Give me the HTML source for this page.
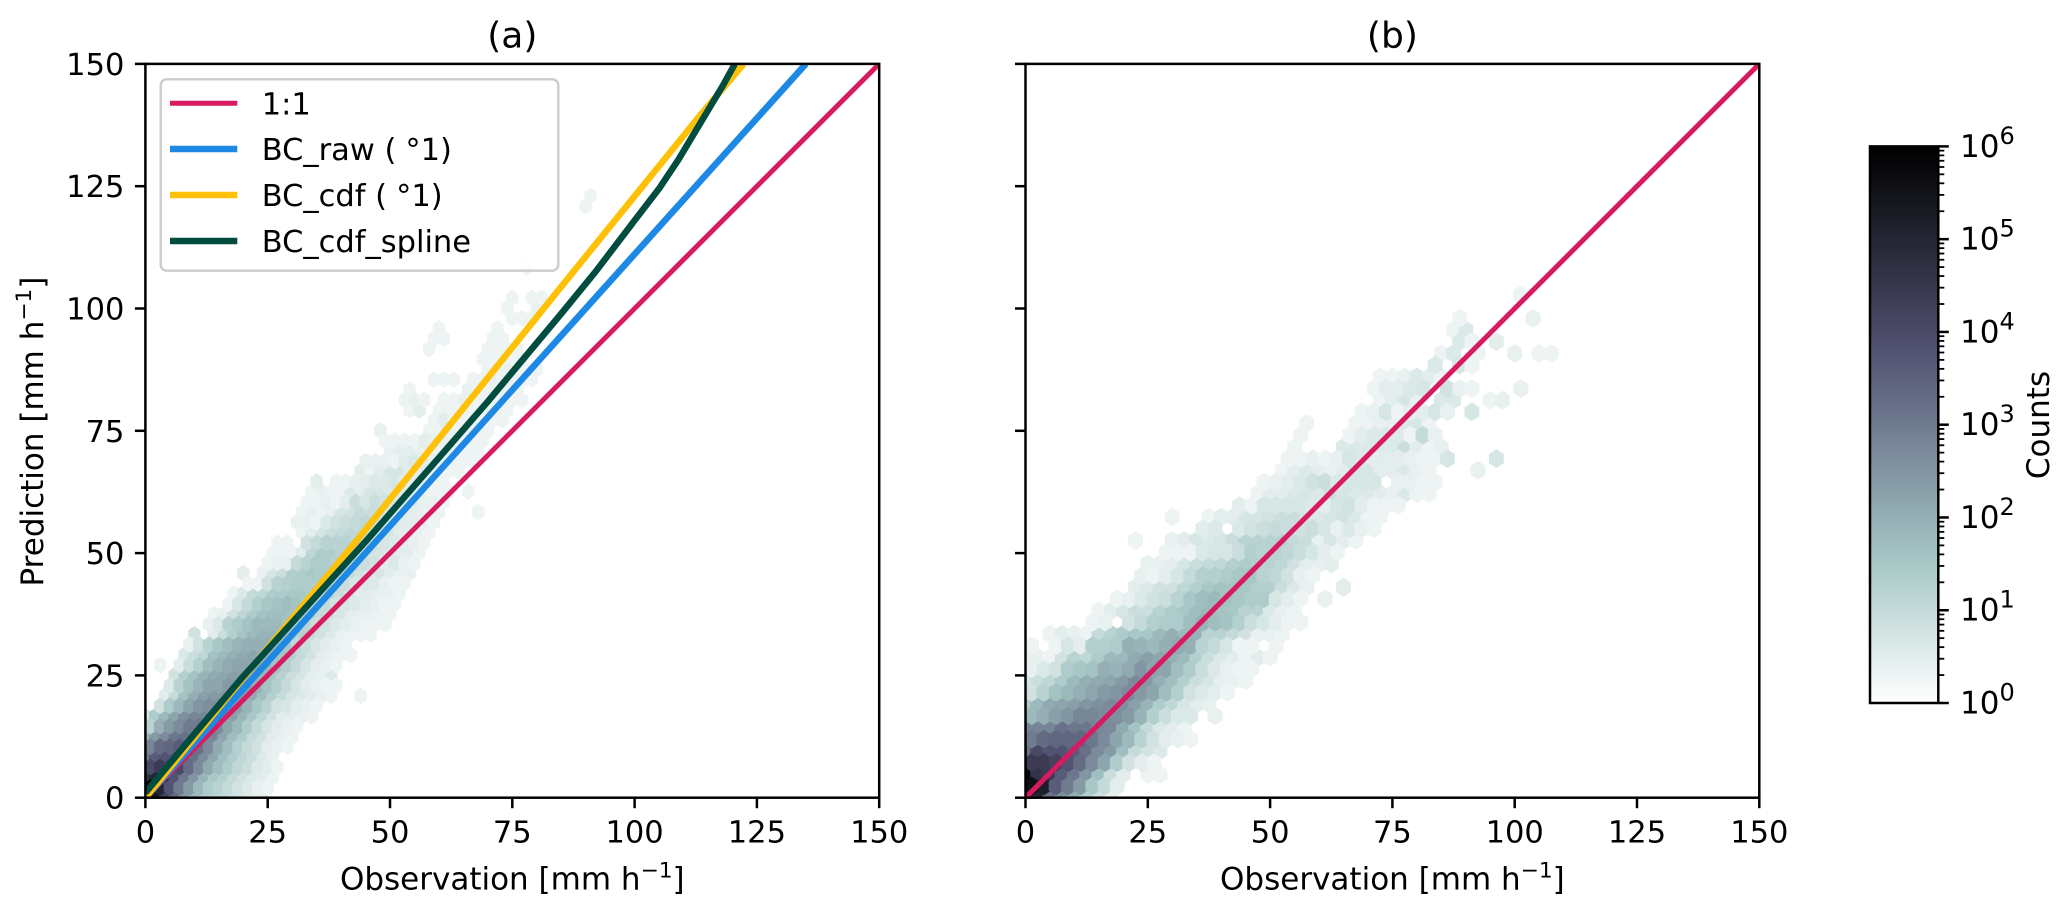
<!DOCTYPE html>
<html lang="en">
<head>
<meta charset="utf-8">
<title>Observation vs prediction hexbin</title>
<style>
html,body{margin:0;padding:0;background:#fff;width:2067px;height:911px;overflow:hidden}
svg{display:block}
text{font-family:"DejaVu Sans","Liberation Sans",sans-serif;fill:#000}
</style>
</head>
<body>
<svg id="fig" width="2067" height="911" viewBox="0 0 2067 911" xmlns="http://www.w3.org/2000/svg">
  <defs>
    <clipPath id="clipA"><rect x="145.4" y="63.9" width="733.8" height="733.8"/></clipPath>
    <clipPath id="clipB"><rect x="1025.5" y="63.9" width="733.8" height="733.8"/></clipPath>
  </defs>
  <g id="panelA">
    <g id="hexA" clip-path="url(#clipA)"></g>
    <g id="linesA" clip-path="url(#clipA)" fill="none"></g>
    <rect x="145.4" y="63.9" width="733.8" height="733.8" fill="none" stroke="#000" stroke-width="2.5"/>
    <g id="ticksA"></g>
    <text x="512.3" y="47.5" font-size="36" text-anchor="middle">(a)</text>
    <text x="512.3" y="889.3" font-size="31" text-anchor="middle">Observation [mm h<tspan font-size="21.7" dy="-12">−1</tspan><tspan dy="12">]</tspan></text>
    <text transform="translate(43,431.5) rotate(-90)" font-size="31" text-anchor="middle">Prediction [mm h<tspan font-size="21.7" dy="-12">−1</tspan><tspan dy="12">]</tspan></text>
    <g>
      <rect x="160.7" y="79.3" width="397.6" height="191.4" rx="6" ry="6" fill="#fff" fill-opacity="0.8" stroke="#ccc" stroke-width="2.4"/>
      <line x1="170" x2="237.3" y1="103.3" y2="103.3" stroke="#D81B60" stroke-width="5"/>
      <text x="261.7" y="114.3" font-size="30.5">1:1</text>
      <line x1="170" x2="237.3" y1="149" y2="149" stroke="#1E88E5" stroke-width="6.5"/>
      <text x="261.7" y="160" font-size="30.5">BC_raw (<tspan dx="9">°</tspan>1)</text>
      <line x1="170" x2="237.3" y1="195" y2="195" stroke="#FFC107" stroke-width="6.5"/>
      <text x="261.7" y="206" font-size="30.5">BC_cdf (<tspan dx="9">°</tspan>1)</text>
      <line x1="170" x2="237.3" y1="241" y2="241" stroke="#004D40" stroke-width="6.5"/>
      <text x="261.7" y="252" font-size="30.5">BC_cdf_spline</text>
    </g>
  </g>
  <g id="panelB">
    <g id="hexB" clip-path="url(#clipB)"></g>
    <g id="linesB" clip-path="url(#clipB)" fill="none"></g>
    <rect x="1025.5" y="63.9" width="733.8" height="733.8" fill="none" stroke="#000" stroke-width="2.5"/>
    <g id="ticksB"></g>
    <text x="1392.4" y="47.5" font-size="36" text-anchor="middle">(b)</text>
    <text x="1392.4" y="889.3" font-size="31" text-anchor="middle">Observation [mm h<tspan font-size="21.7" dy="-12">−1</tspan><tspan dy="12">]</tspan></text>
  </g>
  <g id="colorbar">
    <g id="cbFill"></g>
    <rect x="1870" y="146.4" width="68.3" height="556.6" fill="none" stroke="#000" stroke-width="2.5"/>
    <g id="cbTicks"></g>
    <text transform="translate(2049,425) rotate(-90)" font-size="31" text-anchor="middle">Counts</text>
  </g>
</svg>
<script>
// Axis tick values
const axisTicks = [0, 25, 50, 75, 100, 125, 150];
const cbExponents = [0, 1, 2, 3, 4, 5, 6];

// Line series (observation, prediction)
const oneToOneObs = [0, 150];
const oneToOnePred = [0, 150];
const bcRawObs = [0, 135];
const bcRawPred = [0, 150];
const bcCdfObs = [0, 20, 43.3, 84.8, 113, 122.3];
const bcCdfPred = [0, 24.5, 52.7, 104.2, 139, 150];
const bcSplineObs = [0, 5, 10, 20, 30, 45.3, 60, 70, 84.8, 92, 100, 105, 109, 112, 115, 118, 120.5];
const bcSplinePred = [1, 7, 13, 24.8, 35.8, 52.7, 69.5, 81, 98.7, 107.5, 118, 124.5, 130.5, 135.5, 140.5, 145.5, 150];

// Hexbin bin steps, in data units
const binStepA = [2, 2.085];
const binStepB = [2.5, 2.39];

// Hexbin: [prediction bin, first observation value, log-count levels in tenths of a decade]
const hexRowsA = [
[0,0,[56,54,42,33,24,18,14,12,10,8,6,5,4]],
[1,1,[58,50,38,30,24,18,14,12,10,8,6,4,3]],
[2,0,[46,50,50,38,31,25,19,15,13,10,8,6,5,3]],
[3,1,[40,44,42,40,33,27,21,17,14,11,9,6,5,3]],
[4,0,[30,36,38,38,37,32,27,22,17,14,11,9,6,4]],
[5,1,[28,33,34,36,34,32,27,21,17,13,10,8,5,4,3]],
[6,0,[18,24,27,31,32,33,31,28,22,17,14,10,8,5,4,3]],
[7,1,[12,20,24,27,30,30,29,27,22,18,14,10,7,5,4,3]],
[8,0,[6,14,18,22,26,28,28,28,26,23,19,15,11,8,5,5,4,3]],
[9,3,[8,14,18,22,25,26,26,26,23,19,15,12,8,7,5,4,3]],
[10,4,[5,10,16,20,23,24,24,25,24,21,17,13,10,7,6,5,4,3]],[10,44,[3]],
[11,5,[6,12,16,19,22,22,24,24,24,20,16,13,10,7,5,4,3,3]],
[12,6,[8,13,16,19,21,22,23,23,21,19,15,12,9,7,5,4,6]],
[13,3,[3]],[13,7,[5,9,13,17,19,21,22,22,22,19,16,13,10,7,5,4,3]],
[14,8,[6,9,11,16,18,20,21,22,21,19,16,13,10,8,5,4,3,3]],
[15,9,[4,8,12,15,17,19,20,20,20,18,15,11,9,7,5,4,3]],
[16,10,[8]],[16,14,[5,9,13,16,18,19,19,17,15,13,10,8,6,4,3,3,3]],
[17,13,[4,6,12,14,16,18,18,18,16,14,12,9,8,6,5,4,3,3,3]],
[18,14,[3,4,8,11,14,16,17,17,16,14,13,10,8,7,5,4,4,3,3]],
[19,17,[3,7,10,13,15,16,17,16,14,12,10,8,7,6,5,4,3,3]],
[20,18,[3,6,10,11,14,14,15,15,14,12,11,9,7,5,5,4,4,3]],
[21,21,[3,3,8,12,13,14,14,14,14,11,9,7,6,6,4,3,3]],
[22,20,[5]],[22,24,[4,7,9,13,14,15,14,13,11,10,8,6,7,5,4,4]],
[23,25,[3,4,4,10,12,14,14,13,12,10,9,8,5,6,4,3]],
[24,26,[3,3,3,5,11,14,14,12,12,10,8,7,6,5,5,3]],
[25,27,[3,3]],[25,33,[8,10,12,12,12,11,9,8,7,6,5,4,3]],
[26,32,[3,5,7,9,10,11,11,9,7,7,5,5,4,3]],
[27,31,[4,4,3,6,8,9,10,11,9,7,6,5,5,4,3]],
[28,32,[3,4,3,4,7,8,10,9,9,7,6,5,4,3,3]],[28,68,[3]],
[29,33,[3,3,4,3,5,9,7,9,8,6,6,5,4,4,3]],
[30,34,[3,4,3,3,6,5,7,7,6,6,5,4,3,3,3]],[30,66,[3]],
[31,35,[5]],[31,39,[3,3,4,5,6,6,7,5,5,4,3,3]],
[32,44,[5,3,5,7,7,5,5,4,4,3,3]],
[33,45,[4,4,4,3,5,6,5,4,3,3,3,3]],
[34,50,[4,5,5,4,3,3,4,3,3,3]],
[35,49,[3,3,3,3,5,4,4,3,3,3,3]],
[36,48,[4]],[36,58,[3,3,4,3,3,3,3]],
[37,59,[3,5,3,3,3,3,3,3]],
[38,54,[3,5]],[38,60,[3,3,3,3,3,3,3,3]],
[39,53,[3,4,3]],[39,61,[3,3,4,3,3,3,3,3,3]],
[40,54,[3]],[40,66,[4,3,3,3,3,3]],
[41,59,[3,3,3]],[41,67,[3,3,4,3,3,3,3]],
[42,70,[3,3,4,3,3,3]],
[43,69,[3,3,3,3,3]],
[44,58,[3]],[44,70,[3,3,3,3]],
[45,59,[3,3]],[45,71,[3,3]],
[46,60,[3]],[46,72,[3]],
[47,75,[3,3,3]],
[48,74,[3]],[48,80,[4]],
[49,75,[3]],[49,79,[3,3]],
[52,78,[3]],
[58,90,[3]],
[59,91,[3]]
];

const hexRowsB = [
[0,0,[52,50,32,26,20,13,8,4]],
[1,1.25,[56,52,36,30,24,15,10,5]],
[2,0,[58,46,44,36,31,25,17,9,5]],[2,25,[3,3]],
[3,1.25,[44,44,42,38,33,27,22,14,8,5,3]],
[4,0,[32,40,38,38,36,32,27,24,17,10,8,6]],
[5,1.25,[30,33,34,34,34,31,27,22,18,12,8,5,4,3]],
[6,0,[28,28,28,32,31,31,28,27,21,16,10,6,5,3]],
[7,1.25,[18,20,23,25,28,28,27,26,24,19,13,9,6,6]],[7,38.75,[4]],
[8,0,[14,18,21,22,23,25,26,27,26,23,19,14,11,7,5,4]],
[9,1.25,[8,12,16,18,20,22,24,25,27,24,22,17,13,8,6,5,3]],
[10,0,[7,9,11,14,18,20,21,22,24,27,24,20,17,13,9,7,4,4,3]],
[11,1.25,[4,6,8,14,15,16,20,19,21,25,22,22,17,14,9,6,4,3,3]],
[12,0,[4,4,3,8,12,11,14,18,18,21,23,22,20,18,13,9,6,5,3,5,3]],
[13,1.25,[3]],[13,6.25,[3,7,5,13,13,14,20,19,18,20,21,20,12,10,7,3,3]],[13,51.25,[3]],
[14,5,[3,5,4,3,10,12,14,15,15,18,20,18,19,12,12,10,8,4,4,3]],
[15,13.75,[3,4]],[15,21.25,[8,10,13,14,14,17,19,17,16,13,9,7,5,3,3]],
[16,15,[3,5,7,9,9,12,14,15,17,18,16,15,12,12,6,4,3]],
[17,18.75,[3,4,6,8,9,12,15,17,18,16,15,14,14,7,5,3]],[17,61.25,[4]],
[18,22.5,[5,6,8,8,11,13,15,16,16,15,13,13,9,6,4]],[18,65,[5]],
[19,23.75,[4,3,5,7,10,13,13,14,15,15,12,11,8,4,3]],
[20,25,[4,4,5,7,9,10,11,13,14,13,12,11,8,5,4,5]],
[21,28.75,[3,3,3,6,7,7,9,13,12,12,11,9,7,5,3]],
[22,22.5,[3]],[22,30,[4,5,7,6,7,9,12,12,12,13,10,9,4,7,5,3]],
[23,36.25,[5,6]],[23,43.75,[6,8,9,10,9,8,9,7,4,6,4,3]],
[24,30,[3]],[24,37.5,[3,5,5,7,7,8,9,9,7,6,7,8,6,3,3]],
[25,43.75,[5,3,7,7,7,7,6,5,7,8,5,3,3,3]],
[26,47.5,[3,5,5,6,7,6,9,7,6,6,5,4,6,3,3]],
[27,48.75,[3,4,5,6,8,9,6,7,7,7]],[27,76.25,[4,4,3,3]],
[28,52.5,[3,5,6,5,4,5,7,7,5,5,6,4,3]],[28,92.5,[4]],
[29,53.75,[3,3,4,3,4,7,6,5,5,5,4,3,3,7]],[29,96.25,[7]],
[30,55,[3]],[30,65,[6,6,6,6,6,9,5,3,4]],
[31,56.25,[3]],[31,66.25,[3,5,6,6,6,3,10,4]],
[32,57.5,[3]],[32,67.5,[3,3,4,4,6,7,3]],
[33,68.75,[3,4,7,3,5,5,7,4]],[33,91.25,[7]],
[34,72.5,[3,5,7,4]],[34,85,[6,6]],[34,95,[3,4]],
[35,71.25,[3,5,5,6,7]],[35,86.25,[8,4,3]],[35,101.25,[4]],
[36,72.5,[3,3,4,6,5,3]],
[37,83.75,[6]],[37,88.75,[7,3]],
[38,85,[3,6]],[38,92.5,[3]],[38,100,[4]],[38,105,[3,3]],
[39,88.75,[6,3]],[39,96.25,[5]],
[40,87.5,[3,6]],
[41,88.75,[3]],[41,103.75,[4]],
[43,101.25,[3]]
];

const SVGNS = 'http://www.w3.org/2000/svg';
const panelA = {left: 145.4, bottom: 797.7, size: 733.8};
const panelB = {left: 1025.5, bottom: 797.7, size: 733.8};
function sx(p, v) { return p.left + v / 150 * p.size; }
function sy(p, v) { return p.bottom - v / 150 * p.size; }

function interp(x, xs, ys) {
  for (let i = 1; i < xs.length; i++) {
    if (x <= xs[i]) return ys[i-1] + (x - xs[i-1]) / (xs[i] - xs[i-1]) * (ys[i] - ys[i-1]);
  }
  return ys[ys.length-1];
}
function boneR(t) {
  const u = 1 - Math.max(0, Math.min(1, t));
  const r = interp(u, [0, .746032, 1], [0, .652778, 1]);
  const g = interp(u, [0, .365079, .746032, 1], [0, .319444, .782407, 1]);
  const b = interp(u, [0, .365079, 1], [0, .444444, 1]);
  return 'rgb(' + Math.round(r*255) + ',' + Math.round(g*255) + ',' + Math.round(b*255) + ')';
}

function drawHexes(rows, panel, step, host) {
  const halfW = step[0] / 150 * panel.size / 2;
  const rowPx = step[1] / 150 * panel.size;
  const tall = rowPx * 2 / 3, shoulder = rowPx / 3;
  [0, 1].forEach(function (parity) {
    rows.forEach(function (row) {
      if (row[0] % 2 !== parity) return;
      row[2].forEach(function (level, i) {
        if (!level) return;
        const cx = sx(panel, row[1] + i * step[0]);
        const cy = sy(panel, row[0] * step[1]);
        const el = document.createElementNS(SVGNS, 'polygon');
        
        
        el.setAttribute('points', [
          [cx + halfW, cy - shoulder], [cx + halfW, cy + shoulder], [cx, cy + tall],
          [cx - halfW, cy + shoulder], [cx - halfW, cy - shoulder], [cx, cy - tall]
        ].map(function (q) { return q[0].toFixed(2) + ',' + q[1].toFixed(2); }).join(' '));
        const col = boneR(level / 60);
        el.setAttribute('fill', col);
        el.setAttribute('stroke', col);
        el.setAttribute('stroke-width', '2.6');
        host.appendChild(el);
      });
    });
  });
}

function drawLine(panel, host, xs, ys, color, width, name) {
  const el = document.createElementNS(SVGNS, 'polyline');
  
  
  el.setAttribute('points', xs.map(function (x, i) {
    return sx(panel, x).toFixed(2) + ',' + sy(panel, ys[i]).toFixed(2);
  }).join(' '));
  el.setAttribute('stroke', color);
  el.setAttribute('stroke-width', width);
  el.setAttribute('stroke-linejoin', 'round');
  host.appendChild(el);
}

function drawTicks(panel, host, showY) {
  axisTicks.forEach(function (v) {
    const x = sx(panel, v), y = sy(panel, v);
    const xt = document.createElementNS(SVGNS, 'line');
    
    
    xt.setAttribute('x1', x); xt.setAttribute('x2', x);
    xt.setAttribute('y1', panel.bottom); xt.setAttribute('y2', panel.bottom + 10.5);
    xt.setAttribute('stroke', '#000'); xt.setAttribute('stroke-width', '2.5');
    host.appendChild(xt);
    const xl = document.createElementNS(SVGNS, 'text');
    
    
    xl.setAttribute('x', x); xl.setAttribute('y', 842.7);
    xl.setAttribute('font-size', '30.5'); xl.setAttribute('text-anchor', 'middle');
    xl.textContent = v;
    host.appendChild(xl);
    const yt = document.createElementNS(SVGNS, 'line');
    
    
    yt.setAttribute('x1', panel.left - 10.5); yt.setAttribute('x2', panel.left);
    yt.setAttribute('y1', y); yt.setAttribute('y2', y);
    yt.setAttribute('stroke', '#000'); yt.setAttribute('stroke-width', '2.5');
    host.appendChild(yt);
    if (showY) {
      const yl = document.createElementNS(SVGNS, 'text');
      
      
      yl.setAttribute('x', panel.left - 21); yl.setAttribute('y', y + 11);
      yl.setAttribute('font-size', '30.5'); yl.setAttribute('text-anchor', 'end');
      yl.textContent = v;
      host.appendChild(yl);
    }
  });
}

drawHexes(hexRowsA, panelA, binStepA, document.getElementById('hexA'));
drawHexes(hexRowsB, panelB, binStepB, document.getElementById('hexB'));

const la = document.getElementById('linesA');
drawLine(panelA, la, oneToOneObs, oneToOnePred, '#D81B60', 5, 'line-1to1');
drawLine(panelA, la, bcRawObs, bcRawPred, '#1E88E5', 6.5, 'line-bc-raw');
drawLine(panelA, la, bcCdfObs, bcCdfPred, '#FFC107', 6.5, 'line-bc-cdf');
drawLine(panelA, la, bcSplineObs, bcSplinePred, '#004D40', 6.5, 'line-bc-cdf-spline');
drawLine(panelB, document.getElementById('linesB'), oneToOneObs, oneToOnePred, '#D81B60', 5, 'line-1to1-b');

drawTicks(panelA, document.getElementById('ticksA'), true);
drawTicks(panelB, document.getElementById('ticksB'), false);

// Colorbar
const cbTop = 146.4, cbBottom = 703, cbLeft = 1870, cbRight = 1938.3;
function cbY(exp) { return cbBottom - exp / 6 * (cbBottom - cbTop); }
const cbFill = document.getElementById('cbFill');
for (let i = 0; i < 186; i++) {
  const seg = document.createElementNS(SVGNS, 'rect');
  
  
  const y1 = cbY((i + 1) / 186 * 6), y2 = cbY(i / 186 * 6);
  seg.setAttribute('x', cbLeft); seg.setAttribute('width', cbRight - cbLeft);
  seg.setAttribute('y', y1); seg.setAttribute('height', y2 - y1 + 0.6);
  seg.setAttribute('fill', boneR((i + .5) / 186));
  cbFill.appendChild(seg);
}
const cbT = document.getElementById('cbTicks');
cbExponents.forEach(function (e) {
  const y = cbY(e);
  const t = document.createElementNS(SVGNS, 'line');
  
  
  t.setAttribute('x1', cbRight); t.setAttribute('x2', cbRight + 10.5);
  t.setAttribute('y1', y); t.setAttribute('y2', y);
  t.setAttribute('stroke', '#000'); t.setAttribute('stroke-width', '2.5');
  cbT.appendChild(t);
  if (e < 6) {
    for (let m = 2; m < 10; m++) {
      const my = cbY(e + Math.log10(m));
      const mt = document.createElementNS(SVGNS, 'line');
      
      
      mt.setAttribute('x1', cbRight); mt.setAttribute('x2', cbRight + 6);
      mt.setAttribute('y1', my); mt.setAttribute('y2', my);
      mt.setAttribute('stroke', '#000'); mt.setAttribute('stroke-width', '1.8');
      cbT.appendChild(mt);
    }
  }
  const lab = document.createElementNS(SVGNS, 'text');
  
  
  lab.setAttribute('x', 1960); lab.setAttribute('y', y + 10.5);
  lab.setAttribute('font-size', '31');
  lab.appendChild(document.createTextNode('10'));
  const sup = document.createElementNS(SVGNS, 'tspan');
  sup.setAttribute('font-size', '24');
  sup.setAttribute('dy', '-13');
  sup.textContent = e;
  lab.appendChild(sup);
  cbT.appendChild(lab);
});
</script>
</body>
</html>
